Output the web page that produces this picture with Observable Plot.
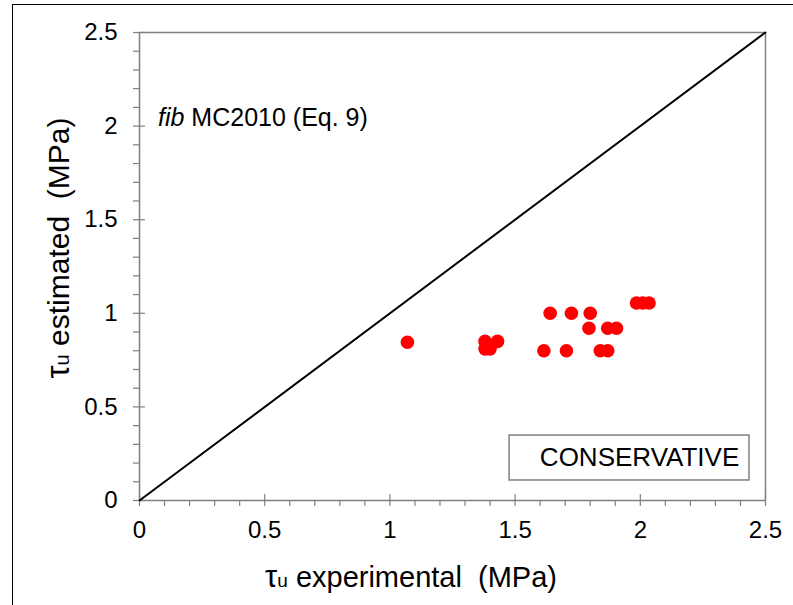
<!DOCTYPE html>
<html>
<head>
<meta charset="utf-8">
<script src="https://cdn.jsdelivr.net/npm/d3@7"></script>
<script src="https://cdn.jsdelivr.net/npm/@observablehq/plot@0.6"></script>
<style>
  html, body { margin: 0; padding: 0; background: #fff; }
  #wrap { position: relative; width: 793px; height: 605px; overflow: hidden; }
  #border { position: absolute; left: 12px; top: 4px; width: 800px; height: 620px;
            border-left: 1.5px solid #000; border-top: 1.5px solid #000; pointer-events: none; }
</style>
</head>
<body>
<div id="wrap"><div id="border"></div></div>
<script>
// Data
const experimental = [1.07, 1.38, 1.43, 1.38, 1.40, 1.64, 1.725, 1.80, 1.795, 1.87, 1.905, 1.615, 1.705, 1.84, 1.87, 1.985, 2.01, 2.035];
const estimated    = [0.845, 0.85, 0.85, 0.81, 0.81, 1.0, 1.0, 1.0, 0.92, 0.92, 0.92, 0.80, 0.80, 0.80, 0.80, 1.055, 1.055, 1.055];
const majorTicks = [0, 0.5, 1, 1.5, 2, 2.5];
const tickLabels = ["0", "0.5", "1", "1.5", "2", "2.5"];
const minorTicks = [0.1,0.2,0.3,0.4,0.6,0.7,0.8,0.9,1.1,1.2,1.3,1.4,1.6,1.7,1.8,1.9,2.1,2.2,2.3,2.4];
const diagonal = [[0, 0], [2.5, 2.5]];
const boxLabel = "CONSERVATIVE";
const boxExtent = {x1: 1.478, x2: 2.436, y1: 0.107, y2: 0.347};
const boxLabelX = 1.997;
const note = {italic: "fib", rest: " MC2010 (Eq. 9)", x: 0.076, y: 2.045};
const xTitle = {sym: "τ", sub: "u", rest: " experimental  (MPa)"};
const yTitle = {sym: "τ", sub: "u", rest: " estimated  (MPa)"};

const points = experimental.map((x, i) => ({x, y: estimated[i]}));
const gray = "#808080";
const font = "Liberation Sans, Arial, sans-serif";

const plot = Plot.plot({
  width: 793,
  height: 605,
  marginLeft: 139,
  marginRight: 28,
  marginTop: 32,
  marginBottom: 105,
  style: {fontFamily: font, background: "transparent", overflow: "visible"},
  x: {domain: [0, 2.5]},
  y: {domain: [0, 2.5]},
  marks: [
    // plot frame top/right
    Plot.ruleY([2.5], {stroke: gray, strokeWidth: 1.5}),
    Plot.ruleX([2.5], {stroke: gray, strokeWidth: 1.5}),
    // axis lines
    Plot.ruleY([0], {stroke: gray, strokeWidth: 1.5}),
    Plot.ruleX([0], {stroke: gray, strokeWidth: 1.5}),
    // x ticks (minor inward, major crossing)
    Plot.ruleX(minorTicks, {x: d => d, y1: 0, y2: 0, insetTop: 0, insetBottom: -6, stroke: gray, strokeWidth: 1.2}),
    Plot.ruleX(majorTicks, {x: d => d, y1: 0, y2: 0, insetTop: -6, insetBottom: -6, stroke: gray, strokeWidth: 1.2}),
    // y ticks
    Plot.ruleY(minorTicks, {y: d => d, x1: 0, x2: 0, insetLeft: -6, insetRight: 0, stroke: gray, strokeWidth: 1.2}),
    Plot.ruleY(majorTicks, {y: d => d, x1: 0, x2: 0, insetLeft: -6, insetRight: -6, stroke: gray, strokeWidth: 1.2}),
    // tick labels
    Plot.axisX(majorTicks, {tickSize: 0, tickPadding: 20, fontSize: 24, fill: "#000", tickFormat: (d, i) => tickLabels[i], label: null}),
    Plot.axisY(majorTicks, {tickSize: 0, tickPadding: 22, fontSize: 24, fill: "#000", tickFormat: (d, i) => tickLabels[i], label: null}),
    // diagonal
    Plot.line(diagonal, {x: d => d[0], y: d => d[1], stroke: "#000", strokeWidth: 2}),
    // conservative box
    Plot.rect([boxExtent], {x1: "x1", x2: "x2", y1: "y1", y2: "y2", fill: "#fff", stroke: gray, strokeWidth: 1.5}),
    Plot.text([boxLabel], {x: boxLabelX, y: (boxExtent.y1 + boxExtent.y2) / 2, text: d => d, fontSize: 26, fill: "#000"}),
    // points
    Plot.dot(points, {x: "x", y: "y", r: 6.8, fill: "#ff0000", stroke: null})
  ]
});

document.getElementById("wrap").prepend(plot);

const svg = d3.select(plot);
const sx = plot.scale("x"), sy = plot.scale("y");

// annotation
const t = svg.append("text")
  .attr("x", sx.apply(note.x)).attr("y", sy.apply(note.y))
  .attr("dy", "0.35em")
  .attr("text-anchor", "start")
  .attr("font-family", font).attr("font-size", 25).attr("fill", "#000");
t.append("tspan").attr("font-style", "italic").text(note.italic);
t.append("tspan").style("white-space", "pre").text(note.rest);

// x title
const xt = svg.append("text")
  .attr("x", 411).attr("y", 587)
  .attr("text-anchor", "middle")
  .attr("font-family", font).attr("font-size", 29).attr("fill", "#000");
xt.append("tspan").attr("font-size", 31).text(xTitle.sym);
xt.append("tspan").attr("font-size", 19).text(xTitle.sub);
xt.append("tspan").style("white-space", "pre").text(xTitle.rest);

// y title
const yt = svg.append("text")
  .attr("transform", "translate(69,248) rotate(-90)")
  .attr("text-anchor", "middle")
  .attr("font-family", font).attr("font-size", 30).attr("fill", "#000");
yt.append("tspan").attr("font-size", 33).text(yTitle.sym);
yt.append("tspan").attr("font-size", 20).text(yTitle.sub);
yt.append("tspan").style("white-space", "pre").text(yTitle.rest);
</script>
</body>
</html>
